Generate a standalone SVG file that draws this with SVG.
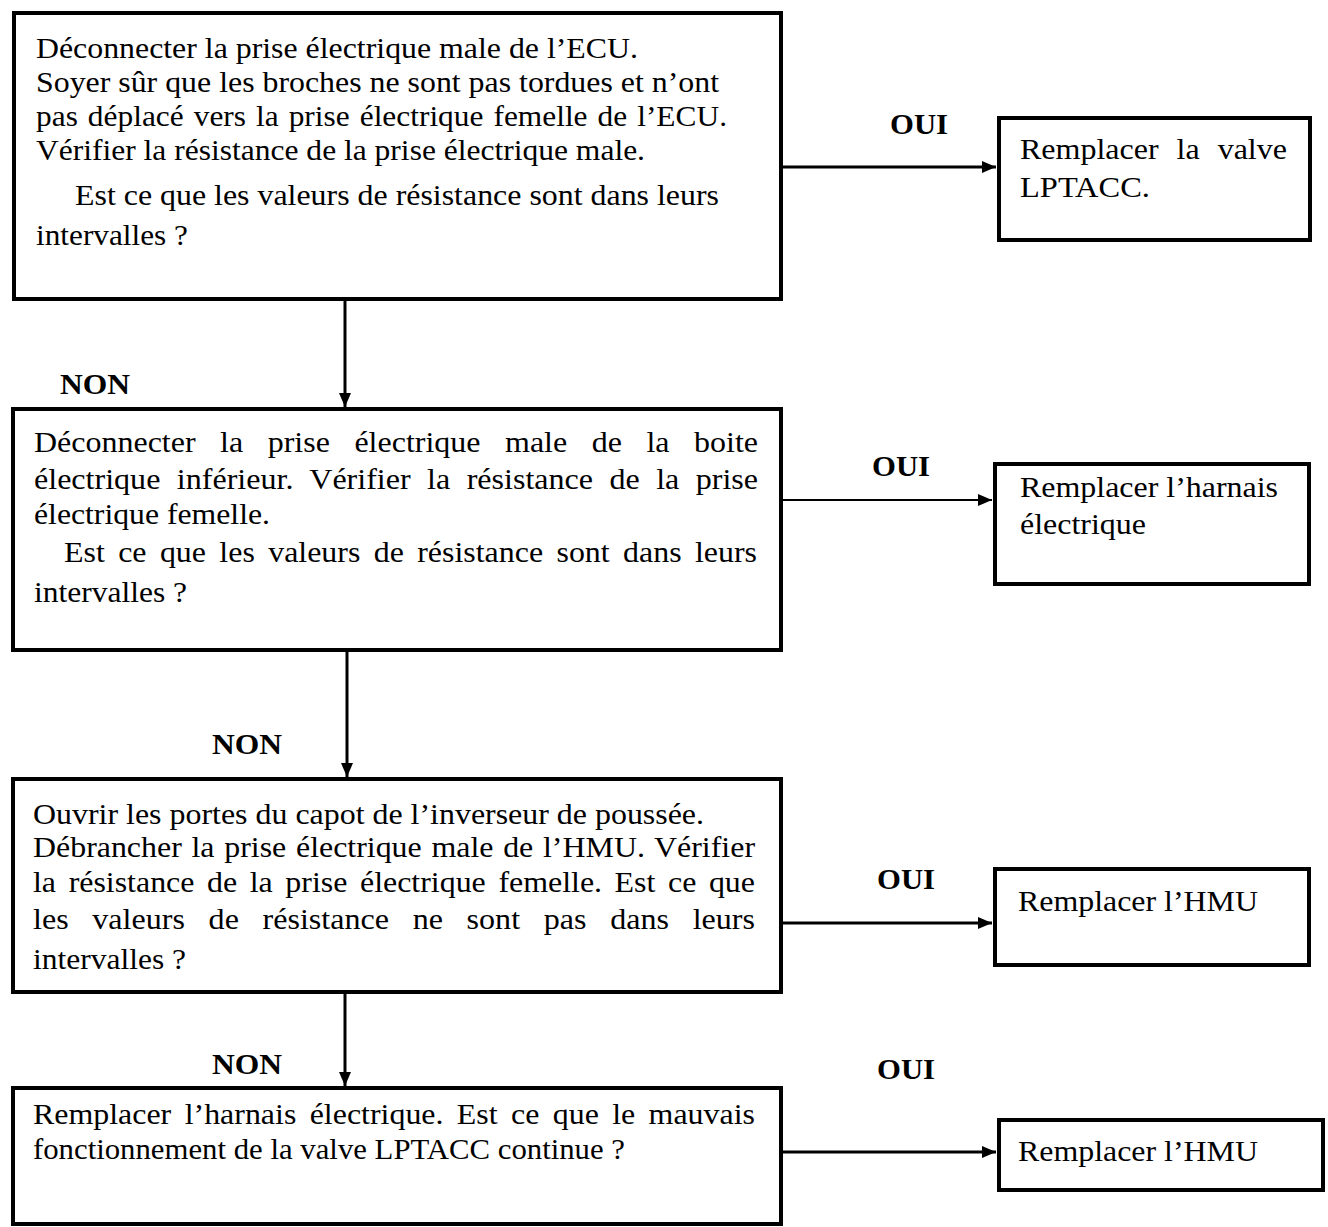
<svg xmlns="http://www.w3.org/2000/svg" width="1328" height="1227" viewBox="0 0 1328 1227">
<style>
  .box { fill: #fff; stroke: #000; stroke-width: 4; }
  .t { font-family: "Liberation Serif", "Times New Roman", serif; font-size: 29px; fill: #000; }
  .b { font-weight: bold; }
  .c { stroke: #000; stroke-width: 3; fill: none; }
</style>
<defs>
  <marker id="ah" viewBox="0 0 14 12" refX="14" refY="6" markerWidth="14" markerHeight="12" markerUnits="userSpaceOnUse" orient="auto">
    <path d="M0,0 L14,6 L0,12 z" fill="#000"/>
  </marker>
</defs>
<rect width="1328" height="1227" fill="#fff"/>

<g id="connectors">
  <line class="c" x1="783" y1="167" x2="996" y2="167" marker-end="url(#ah)"/>
  <line class="c" x1="783" y1="500" x2="992" y2="500" marker-end="url(#ah)" style="stroke-width:2"/>
  <line class="c" x1="783" y1="923" x2="992" y2="923" marker-end="url(#ah)"/>
  <line class="c" x1="783" y1="1152" x2="996" y2="1152" marker-end="url(#ah)"/>
  <line class="c" x1="345" y1="301" x2="345" y2="407" marker-end="url(#ah)"/>
  <line class="c" x1="347" y1="652" x2="347" y2="777" marker-end="url(#ah)"/>
  <line class="c" x1="345" y1="994" x2="345" y2="1086" marker-end="url(#ah)"/>
</g>

<g id="labels">
  <text class="t b" x="890" y="134" textLength="58" lengthAdjust="spacingAndGlyphs">OUI</text>
  <text class="t b" x="60" y="394" textLength="70" lengthAdjust="spacingAndGlyphs">NON</text>
  <text class="t b" x="872" y="476" textLength="58" lengthAdjust="spacingAndGlyphs">OUI</text>
  <text class="t b" x="212" y="754" textLength="70" lengthAdjust="spacingAndGlyphs">NON</text>
  <text class="t b" x="877" y="889" textLength="58" lengthAdjust="spacingAndGlyphs">OUI</text>
  <text class="t b" x="212" y="1074" textLength="70" lengthAdjust="spacingAndGlyphs">NON</text>
  <text class="t b" x="877" y="1079" textLength="58" lengthAdjust="spacingAndGlyphs">OUI</text>
</g>

<g id="node1">
  <rect class="box" x="14" y="13" width="767" height="286"/>
  <text class="t" x="36" y="58" textLength="602" lengthAdjust="spacingAndGlyphs">Déconnecter la prise électrique male de l’ECU.</text>
  <text class="t" x="36" y="92" textLength="683" lengthAdjust="spacingAndGlyphs">Soyer sûr que les broches ne sont pas tordues et n’ont</text>
  <text class="t" x="36" y="126" textLength="691" lengthAdjust="spacingAndGlyphs" style="word-spacing:2px">pas déplacé vers  la prise électrique femelle de l’ECU.</text>
  <text class="t" x="36" y="160" textLength="609" lengthAdjust="spacingAndGlyphs">Vérifier la résistance de la prise électrique male.</text>
  <text class="t" x="75" y="205" textLength="644" lengthAdjust="spacingAndGlyphs">Est ce que les valeurs de résistance sont dans leurs</text>
  <text class="t" x="36" y="245" textLength="152" lengthAdjust="spacingAndGlyphs">intervalles ?</text>
</g>

<g id="node1-oui">
  <rect class="box" x="999" y="118" width="311" height="122"/>
  <text class="t" x="1020" y="159" textLength="267" lengthAdjust="spacingAndGlyphs" style="word-spacing:9px">Remplacer la valve</text>
  <text class="t" x="1020" y="197" textLength="130" lengthAdjust="spacingAndGlyphs">LPTACC.</text>
</g>

<g id="node2">
  <rect class="box" x="13" y="409" width="768" height="241"/>
  <text class="t" x="34" y="452" textLength="724" lengthAdjust="spacingAndGlyphs" style="word-spacing:15px">Déconnecter la prise électrique male de la boite</text>
  <text class="t" x="34" y="489" textLength="724" lengthAdjust="spacingAndGlyphs" style="word-spacing:7.6px">électrique inférieur. Vérifier la résistance de la prise</text>
  <text class="t" x="34" y="524" textLength="236" lengthAdjust="spacingAndGlyphs">électrique femelle.</text>
  <text class="t" x="64" y="562" textLength="693" lengthAdjust="spacingAndGlyphs" style="word-spacing:4.9px">Est ce que les valeurs de résistance sont dans leurs</text>
  <text class="t" x="34" y="602" textLength="153" lengthAdjust="spacingAndGlyphs">intervalles ?</text>
</g>

<g id="node2-oui">
  <rect class="box" x="995" y="464" width="314" height="120"/>
  <text class="t" x="1020" y="497" textLength="258" lengthAdjust="spacingAndGlyphs">Remplacer l’harnais</text>
  <text class="t" x="1020" y="534" textLength="126" lengthAdjust="spacingAndGlyphs">électrique</text>
</g>

<g id="node3">
  <rect class="box" x="13" y="779" width="768" height="213"/>
  <text class="t" x="33" y="824" textLength="671" lengthAdjust="spacingAndGlyphs">Ouvrir les portes du capot de l’inverseur de poussée.</text>
  <text class="t" x="33" y="857" textLength="722" lengthAdjust="spacingAndGlyphs" style="word-spacing:1.6px">Débrancher la prise électrique male de l’HMU. Vérifier</text>
  <text class="t" x="33" y="892" textLength="722" lengthAdjust="spacingAndGlyphs" style="word-spacing:4.2px">la résistance de la prise électrique femelle.  Est ce que</text>
  <text class="t" x="33" y="929" textLength="722" lengthAdjust="spacingAndGlyphs" style="word-spacing:14.2px">les valeurs de résistance ne sont pas dans leurs</text>
  <text class="t" x="33" y="969" textLength="153" lengthAdjust="spacingAndGlyphs">intervalles ?</text>
</g>

<g id="node3-oui">
  <rect class="box" x="995" y="869" width="314" height="96"/>
  <text class="t" x="1018" y="911" textLength="240" lengthAdjust="spacingAndGlyphs">Remplacer l’HMU</text>
</g>

<g id="node4">
  <rect class="box" x="13" y="1088" width="768" height="136"/>
  <text class="t" x="33" y="1124" textLength="722" lengthAdjust="spacingAndGlyphs" style="word-spacing:4.9px">Remplacer l’harnais  électrique. Est ce que le mauvais</text>
  <text class="t" x="33" y="1159" textLength="592" lengthAdjust="spacingAndGlyphs">fonctionnement de la valve LPTACC continue ?</text>
</g>

<g id="node4-oui">
  <rect class="box" x="999" y="1120" width="324" height="70"/>
  <text class="t" x="1018" y="1161" textLength="240" lengthAdjust="spacingAndGlyphs">Remplacer l’HMU</text>
</g>
</svg>
